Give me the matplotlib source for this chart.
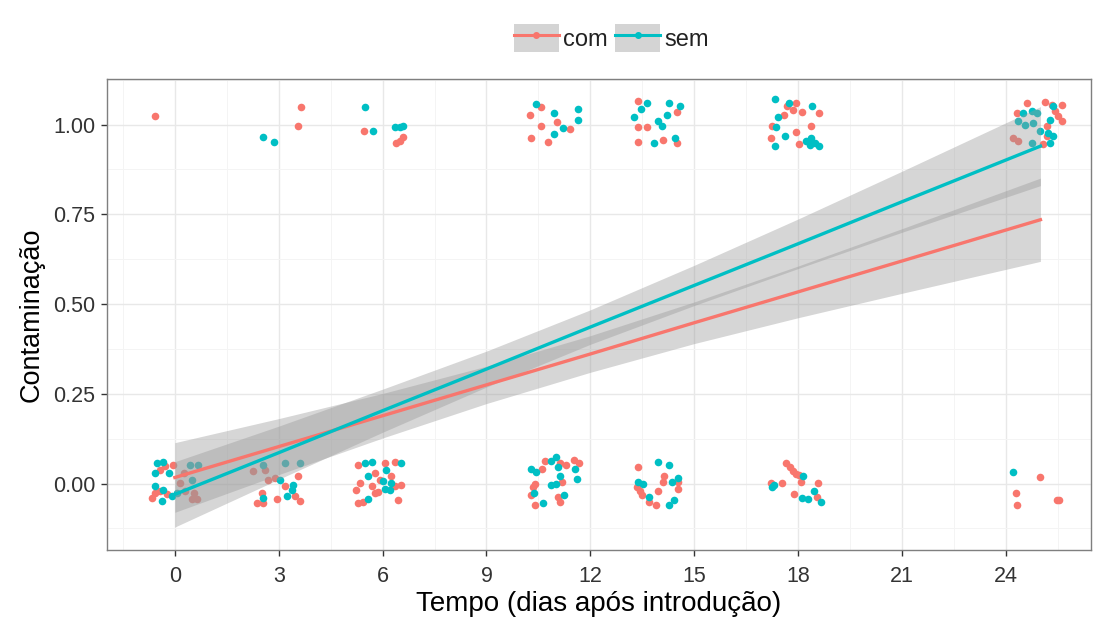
import numpy as np
import matplotlib
matplotlib.use('Agg')
import matplotlib.pyplot as plt
from matplotlib.patches import Patch
from matplotlib.lines import Line2D
from matplotlib.legend_handler import HandlerTuple
from matplotlib.ticker import MultipleLocator

plt.rcParams['font.family'] = ['Liberation Sans', 'DejaVu Sans']

# jittered observations, group "com" (red)
com_x = [-0.57,                                              # t=0, y=1
         3.63, 3.57,                                         # t=3
         5.46, 6.38, 6.50, 6.59,                             # t=6
         10.58, 10.26, 10.58, 11.04, 11.41, 10.30, 10.77,    # t=11
         13.37, 14.49, 13.37, 13.63, 14.11, 14.49, 13.37,    # t=14
         17.69, 17.95, 17.85, 18.11, 18.59, 17.58, 17.26, 18.38, 17.95, 17.21, 18.04,
         24.60, 25.13, 24.31, 25.32, 25.61, 25.41, 25.51, 25.61, 25.18, 24.22, 24.36, 25.08, 25.18,
         # y = 0 row
         -0.28, -0.42, -0.04, -0.42, -0.57, -0.23, -0.66, 0.25, 0.15, 0.30, 0.54, 0.49, 0.63,
         2.27, 2.60, 2.70, 2.89, 3.56, 3.18, 2.51, 2.36, 2.56, 2.94, 3.47, 3.61,
         5.29, 6.06, 6.35, 5.77, 6.25, 5.92, 5.34, 5.68, 6.35, 6.54, 5.24, 5.87, 6.45, 5.29, 5.43, 5.77,
         10.60, 10.68, 11.13, 11.29, 11.54, 11.66, 11.18, 10.40, 10.28, 10.33, 10.40, 11.08, 11.13,
         13.37, 14.12, 14.10, 14.54, 14.54, 13.35, 13.42, 13.48, 13.96, 13.90, 13.69,
         17.66, 17.76, 17.85, 17.95, 18.04, 17.21, 17.53, 18.08, 18.57, 17.89, 18.54,
         24.99, 24.28, 24.33, 25.47, 25.54]
com_y = [1.023,
         1.049, 0.997,
         0.982, 0.949, 0.954, 0.966,
         1.049, 1.028, 0.997, 1.008, 0.987, 0.962, 0.952,
         1.066, 1.036, 0.993, 0.993, 0.956, 0.949, 0.952,
         1.051, 1.061, 1.041, 1.036, 1.031, 1.026, 0.995, 0.995, 0.980, 0.964, 0.946,
         1.060, 1.064, 1.032, 1.055, 1.055, 1.037, 1.023, 1.009, 0.995, 0.963, 0.954, 0.945, 0.968,
         0.048, 0.039, 0.052, -0.021, -0.026, -0.030, -0.040, 0.030, 0.002, -0.021, -0.026, -0.044, -0.044,
         0.034, 0.039, 0.011, 0.016, 0.020, -0.007, -0.026, -0.053, -0.053, -0.044, -0.035, -0.049,
         0.052, 0.057, 0.060, 0.030, 0.020, 0.011, 0.002, -0.007, -0.007, -0.004, -0.019, -0.023, -0.047, -0.053, -0.052, -0.026,
         0.041, 0.063, 0.056, 0.051, 0.066, 0.056, 0.005, 0.000, -0.031, -0.010, -0.061, -0.036, -0.051,
         0.046, 0.022, 0.005, 0.005, -0.015, -0.010, -0.020, -0.031, -0.020, -0.061, -0.051,
         0.056, 0.045, 0.036, 0.028, 0.023, 0.002, 0.002, 0.005, 0.002, -0.029, -0.036,
         0.018, -0.026, -0.061, -0.046, -0.046]

# jittered observations, group "sem" (teal)
sem_x = [2.56, 2.87,
         5.50, 5.73, 6.35, 6.49, 6.59,
         10.44, 10.94, 11.64, 11.64, 11.22, 10.95,
         13.63, 13.47, 14.27, 14.59, 14.22, 13.26, 13.96, 14.06, 14.44, 13.85,
         17.33, 17.74, 18.41, 17.42, 17.37, 17.61, 17.33, 18.22, 18.38, 18.49, 18.61, 18.33,
         24.50, 24.75, 24.89, 25.37, 24.36, 24.55, 24.79, 25.27, 24.99, 25.23, 25.37, 25.27, 24.75,
         # y = 0 row
         -0.52, -0.33, -0.57, -0.18, -0.57, -0.33, -0.37, -0.09, 0.44, 0.68, 0.49, 0.06,
         2.56, 3.18, 3.61, 3.03, 3.42, 3.23, 3.37, 2.56,
         5.48, 5.68, 6.54, 6.11, 5.58, 6.01, 6.25, 6.06, 5.58, 6.20,
         10.28, 10.44, 10.86, 11.00, 11.08, 11.56, 11.61, 11.13, 11.02, 10.86, 10.37, 10.62, 11.24,
         13.96, 14.27, 14.35, 14.54, 13.37, 13.69, 14.27, 14.43, 13.53,
         17.26, 18.14, 18.12, 18.28, 18.47, 18.65, 17.29,
         24.22]
sem_y = [0.966, 0.951,
         1.049, 0.982, 0.994, 0.994, 0.995,
         1.056, 1.033, 1.044, 1.013, 0.991, 0.974,
         1.061, 1.044, 1.061, 1.051, 1.026, 1.020, 1.010, 0.995, 0.964, 0.949,
         1.072, 1.061, 1.051, 1.020, 0.993, 0.969, 0.941, 0.954, 0.964, 0.949, 0.939, 0.944,
         1.032, 1.037, 1.032, 1.051, 1.009, 1.000, 1.005, 1.014, 0.982, 0.977, 0.968, 0.949, 0.949,
         0.057, 0.060, 0.030, 0.030, -0.007, -0.017, -0.049, -0.035, 0.052, 0.052, 0.011, -0.026,
         0.052, 0.057, 0.057, 0.011, -0.003, -0.035, -0.017, -0.040,
         0.057, 0.060, 0.057, 0.039, 0.020, 0.006, 0.002, -0.014, -0.042, -0.019,
         0.041, 0.031, 0.063, 0.074, 0.046, 0.041, 0.012, 0.020, 0.000, -0.005, -0.026, -0.054, -0.031,
         0.059, 0.053, 0.005, 0.015, 0.005, -0.036, -0.061, -0.046, 0.000,
         -0.010, 0.020, -0.039, -0.043, -0.022, -0.051, -0.005,
         0.031]

# linear fits with 95% confidence bands
fit_x = [0, 3, 6, 9, 12, 15, 18, 21, 25]
com_fit = [0.017, 0.103, 0.189, 0.275, 0.361, 0.448, 0.534, 0.620, 0.735]
com_lo = [-0.080, 0.025, 0.127, 0.223, 0.310, 0.390, 0.462, 0.530, 0.619]
com_hi = [0.114, 0.181, 0.251, 0.327, 0.412, 0.506, 0.606, 0.710, 0.851]
sem_fit = [-0.030, 0.086, 0.203, 0.319, 0.436, 0.552, 0.668, 0.785, 0.940]
sem_lo = [-0.121, 0.012, 0.143, 0.269, 0.388, 0.496, 0.599, 0.700, 0.830]
sem_hi = [0.061, 0.160, 0.263, 0.369, 0.484, 0.608, 0.737, 0.870, 1.050]

groups = ['com', 'sem']
colors = ['#F8766D', '#00BFC4']
x_ticks = [0, 3, 6, 9, 12, 15, 18, 21, 24]
y_ticks = [0.00, 0.25, 0.50, 0.75, 1.00]

fig = plt.figure(figsize=(10.97, 6.28), dpi=100)
ax = fig.add_axes([107 / 1097, 1 - 550 / 628, (1091 - 107) / 1097, (550 - 79) / 628])

# points first, then the bands on top, then the fit lines
ax.scatter(com_x, com_y, s=30, c=colors[0], linewidths=0, zorder=2)
ax.scatter(sem_x, sem_y, s=30, c=colors[1], linewidths=0, zorder=2)

ax.fill_between(fit_x, com_lo, com_hi, color='#999999', alpha=0.4, lw=0, zorder=3)
ax.fill_between(fit_x, sem_lo, sem_hi, color='#999999', alpha=0.4, lw=0, zorder=3)
ax.plot(fit_x, com_fit, color=colors[0], lw=2.4, zorder=4)
ax.plot(fit_x, sem_fit, color=colors[1], lw=2.4, zorder=4)

# axes, theme_bw look
ax.set_xlim(-1.96, 26.46)
ax.set_ylim(-0.185, 1.127)
ax.set_xticks(x_ticks)
ax.set_yticks(y_ticks)
ax.set_yticklabels(['%.2f' % v for v in y_ticks])
ax.xaxis.set_minor_locator(MultipleLocator(1.5))
ax.yaxis.set_minor_locator(MultipleLocator(0.125))
ax.grid(which='major', color='#e8e8e8', lw=1.0, zorder=0)
ax.grid(which='minor', color='#f4f4f4', lw=0.7, zorder=0)
ax.set_axisbelow(True)
ax.tick_params(which='major', length=4.5, width=1.0, color='#333333',
               labelsize=15.5, labelcolor='#333333', pad=4)
ax.tick_params(axis='x', pad=7)
ax.tick_params(which='minor', length=0)
for sp in ax.spines.values():
    sp.set_color('#7f7f7f')
    sp.set_linewidth(1.0)

ax.set_xlabel('Tempo (dias após introdução)', fontsize=20, labelpad=3)
ax.set_ylabel('Contaminação', fontsize=19.5, labelpad=6)

# legend on top: grey key box with a line and a point
handles = []
for c in colors:
    handles.append((Patch(facecolor='#d4d4d4', edgecolor='none'),
                    Line2D([], [], color=c, lw=2.2, marker='o', ms=4)))
fig.legend(handles, groups, loc='center', bbox_to_anchor=(0.5575, 0.9395),
           ncol=2, frameon=False, fontsize=17, handlelength=1.9, handleheight=1.5,
           handletextpad=0.2, columnspacing=0.3, borderpad=0, labelcolor='#222222',
           handler_map={tuple: HandlerTuple(ndivide=1, pad=0)})

fig.savefig('out.png', dpi=100)
